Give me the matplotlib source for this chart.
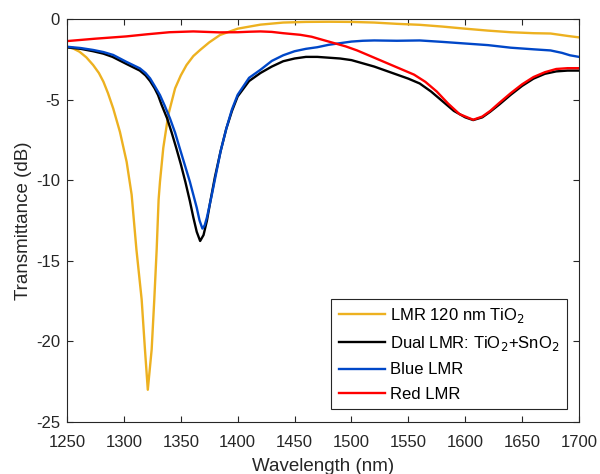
import matplotlib
matplotlib.use("Agg")
import matplotlib.pyplot as plt

# LMR 120 nm TiO2
wl_tio2 = [1250, 1256, 1261, 1267, 1273, 1278, 1282, 1286, 1290.6, 1296.5, 1302.4, 1306.8,
           1311, 1315.6, 1318.5, 1321, 1324.4, 1326.7, 1328.8, 1330.5, 1331.7, 1334.6, 1339,
           1345, 1350, 1355, 1361, 1367, 1375, 1384.5, 1400, 1420, 1440, 1460, 1480, 1500,
           1520, 1540, 1560, 1580, 1600, 1620, 1640, 1660, 1675, 1690, 1700]
t_tio2 = [-1.72, -1.85, -2.03, -2.38, -2.86, -3.35, -3.89, -4.6, -5.55, -7.0, -8.86, -10.9,
          -14.3, -17.4, -20.5, -23.0, -20.5, -17.4, -14.3, -11.2, -10.1, -8.0, -5.95,
          -4.3, -3.5, -2.86, -2.3, -1.92, -1.45, -0.99, -0.6, -0.35, -0.22, -0.18, -0.17, -0.18,
          -0.22, -0.3, -0.36, -0.47, -0.6, -0.72, -0.82, -0.88, -0.9, -1.05, -1.14]

# Dual LMR: TiO2 + SnO2
wl_dual = [1250, 1262, 1273, 1282, 1290, 1302, 1314, 1319, 1323, 1327, 1330, 1333, 1338,
           1342, 1346, 1350, 1354, 1358, 1361, 1364, 1367, 1370, 1373, 1376, 1380, 1385,
           1390, 1395, 1400, 1410, 1420, 1430, 1440, 1450, 1460, 1470, 1480, 1490, 1500,
           1510, 1520, 1530, 1540, 1550, 1560, 1570, 1580, 1590, 1600, 1607, 1615,
           1622, 1630, 1640, 1650, 1660, 1670, 1680, 1690, 1700]
t_dual = [-1.76, -1.85, -2.0, -2.15, -2.35, -2.78, -3.2, -3.5, -3.85, -4.3, -4.72, -5.3, -6.17,
          -7.05, -8.0, -9.0, -10.1, -11.3, -12.3, -13.2, -13.77, -13.4, -12.5, -11.3, -9.8, -8.2,
          -6.8, -5.7, -4.8, -3.85, -3.35, -2.95, -2.62, -2.45, -2.35, -2.35, -2.4, -2.45, -2.55,
          -2.75, -2.95, -3.2, -3.45, -3.7, -4.0, -4.5, -5.1, -5.7, -6.1, -6.27, -6.1,
          -5.75, -5.3, -4.7, -4.15, -3.7, -3.4, -3.25, -3.2, -3.2]

# Blue LMR
wl_blue = [1250, 1262, 1273, 1282, 1290.6, 1302, 1314, 1319, 1323, 1327, 1331.7, 1336, 1340.5,
           1345, 1349, 1353.5, 1358, 1361, 1364, 1366.5, 1369, 1371, 1373, 1377, 1381, 1385,
           1390, 1395, 1400, 1410, 1420, 1430, 1440, 1450, 1460, 1470, 1480, 1490, 1500,
           1510, 1520, 1540, 1560, 1580, 1600, 1620, 1640, 1660, 1675, 1685, 1692, 1700]
t_blue = [-1.72, -1.8, -1.92, -2.05, -2.23, -2.65, -3.06, -3.35, -3.68, -4.15, -4.72, -5.4,
          -6.17, -7.05, -8.0, -9.05, -10.1, -10.9, -11.7, -12.5, -13.0, -12.8, -12.3, -11.0,
          -9.6, -8.2, -6.8, -5.6, -4.7, -3.65, -3.15, -2.6, -2.25, -2.0, -1.85, -1.75, -1.6,
          -1.5, -1.4, -1.35, -1.33, -1.35, -1.33, -1.42, -1.52, -1.62, -1.78, -1.88, -1.95,
          -2.1, -2.25, -2.35]

# Red LMR
wl_red = [1250, 1275, 1302, 1320, 1340, 1361, 1384, 1400, 1410, 1420, 1430, 1440,
          1455, 1465, 1475, 1485, 1495, 1505, 1515, 1525, 1535, 1545, 1555, 1565,
          1575, 1585, 1595, 1607, 1615, 1622, 1630, 1640, 1650, 1660, 1670, 1680,
          1690, 1700]
t_red = [-1.37, -1.22, -1.08, -0.95, -0.82, -0.77, -0.83, -0.82, -0.79, -0.77, -0.8, -0.88,
         -0.98, -1.1, -1.3, -1.5, -1.7, -1.95, -2.25, -2.55, -2.85, -3.15, -3.45, -3.9,
         -4.5, -5.25, -5.9, -6.25, -6.05, -5.7, -5.2, -4.6, -4.05, -3.6, -3.3, -3.1,
         -3.05, -3.05]

plt.rcParams['font.family'] = ['Liberation Sans', 'DejaVu Sans']
plt.rcParams['axes.unicode_minus'] = False
axcol = '#262626'

fig = plt.figure(figsize=(6.0, 4.74), dpi=100)
ax = fig.add_axes([0.1117, 0.1097, 0.8533, 0.8502])

lw = 1.7
ax.plot(wl_tio2, t_tio2, color='#EDB120', lw=lw, label='LMR 120 nm TiO$_2$')
ax.plot(wl_dual, t_dual, color='black', lw=lw, label='Dual LMR: TiO$_2$+SnO$_2$')
ax.plot(wl_blue, t_blue, color='#0047C8', lw=lw, label='Blue LMR')
ax.plot(wl_red, t_red, color='#FF0000', lw=lw, label='Red LMR')

ax.set_xlim(1250, 1700)
ax.set_ylim(-25, 0)
ax.set_xticks(range(1250, 1701, 50))
ax.set_yticks(range(-25, 1, 5))
ax.tick_params(direction='in', length=4, width=0.8, top=True, right=True,
               labelsize=12, colors=axcol)
ax.tick_params(axis='x', pad=9)
ax.tick_params(axis='y', pad=5)
for s in ax.spines.values():
    s.set_color(axcol)
    s.set_linewidth(0.8)

ax.set_xlabel('Wavelength (nm)', fontsize=13.5, color=axcol, labelpad=6)
ax.set_ylabel('Transmittance (dB)', fontsize=13.5, color=axcol, labelpad=3)

leg = ax.legend(loc='lower right', bbox_to_anchor=(0.977, 0.032), fontsize=12,
                handlelength=2.8, handletextpad=0.3, borderpad=0.45,
                labelspacing=0.55, borderaxespad=0, fancybox=False, framealpha=1)
leg.get_frame().set_edgecolor('#262626')
leg.get_frame().set_linewidth(0.8)

fig.savefig('out.png', dpi=100)
